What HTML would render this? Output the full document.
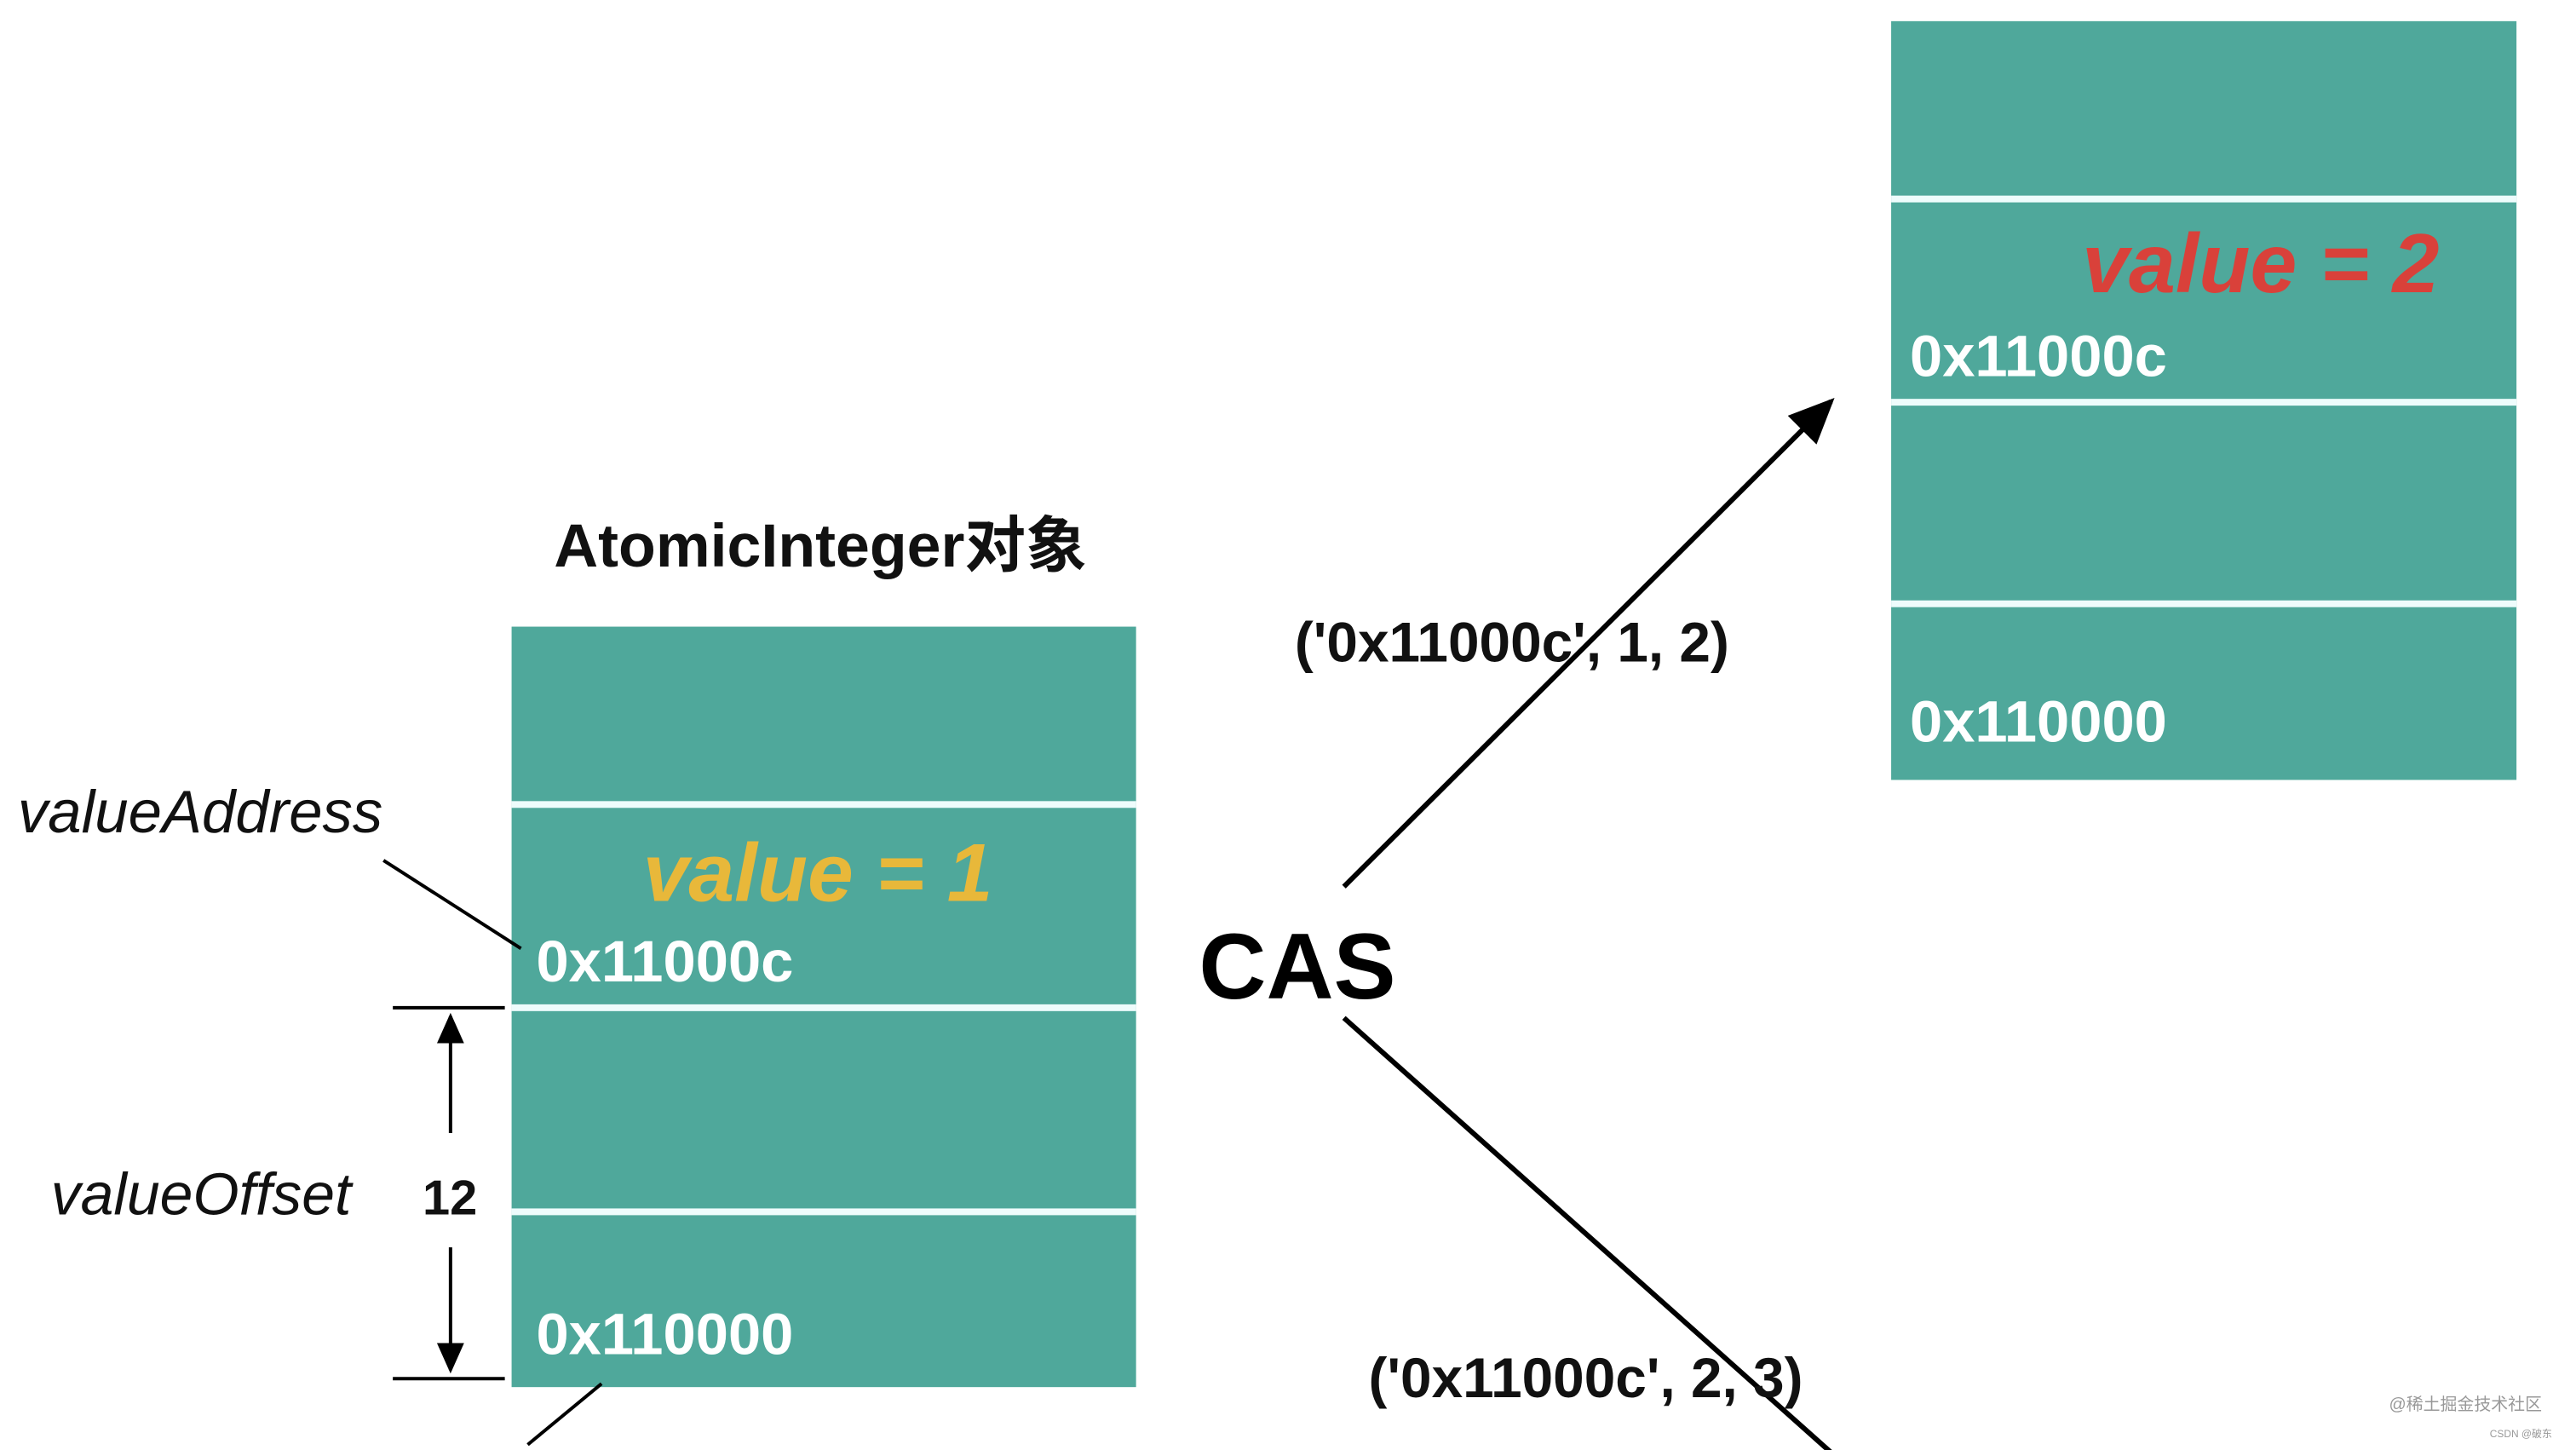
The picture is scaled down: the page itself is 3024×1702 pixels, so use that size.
<!DOCTYPE html>
<html><head><meta charset="utf-8"><style>
html,body{margin:0;padding:0;background:#fff;}
svg{display:block;}
text{font-family:"Liberation Sans","Noto Sans CJK SC",sans-serif;}
</style></head><body>
<svg width="3024" height="1702" viewBox="0 0 3024 1702" xmlns="http://www.w3.org/2000/svg">
<defs>
<marker id="ah" markerWidth="10" markerHeight="10" refX="8" refY="5" orient="auto" markerUnits="strokeWidth">
<path d="M0,1 L9,5 L0,9 z" fill="#000"/>
</marker>
</defs>
<g transform="translate(-2,0) scale(0.996,0.994)">
<!-- left box -->
<rect x="605" y="740" width="736" height="898" fill="#4fa89b"/>
<rect x="605" y="946" width="736" height="8" fill="#eefcfc"/>
<rect x="605" y="1186" width="736" height="8" fill="#eefcfc"/>
<rect x="605" y="1427" width="736" height="8" fill="#eefcfc"/>
<!-- right box -->
<rect x="2231" y="25" width="737" height="896" fill="#4fa89b"/>
<rect x="2231" y="231" width="737" height="8" fill="#eefcfc"/>
<rect x="2231" y="471" width="737" height="8" fill="#eefcfc"/>
<rect x="2231" y="709" width="737" height="8" fill="#eefcfc"/>

<text x="969" y="669" font-size="72" font-weight="bold" text-anchor="middle" fill="#111">AtomicInteger对象</text>
<text x="966" y="1064" font-size="97" font-weight="bold" font-style="italic" text-anchor="middle" fill="#e8b83a">value = 1</text>
<text x="634" y="1159" font-size="69" font-weight="bold" fill="#fff">0x11000c</text>
<text x="634" y="1599" font-size="69" font-weight="bold" fill="#fff">0x110000</text>

<text x="23" y="983" font-size="71" font-style="italic" fill="#111">valueAddress</text>
<line x1="454" y1="1016" x2="616" y2="1120" stroke="#000" stroke-width="4"/>
<text x="62" y="1434" font-size="70" font-style="italic" fill="#111">valueOffset</text>
<text x="500" y="1434" font-size="58" font-weight="bold" fill="#111">12</text>
<line x1="465" y1="1190" x2="597" y2="1190" stroke="#000" stroke-width="4"/>
<line x1="465" y1="1628" x2="597" y2="1628" stroke="#000" stroke-width="4"/>
<line x1="533" y1="1338" x2="533" y2="1200" stroke="#000" stroke-width="4" marker-end="url(#ah)"/>
<line x1="533" y1="1473" x2="533" y2="1618" stroke="#000" stroke-width="4" marker-end="url(#ah)"/>
<line x1="711" y1="1634" x2="624" y2="1706" stroke="#000" stroke-width="4"/>

<text x="1415" y="1179" font-size="110" font-weight="bold" fill="#000">CAS</text>
<line x1="1586" y1="1047" x2="2160" y2="474" stroke="#000" stroke-width="6" marker-end="url(#ah)"/>
<text x="1528" y="781" font-size="66" font-weight="bold" fill="#111">('0x11000c', 1, 2)</text>
<line x1="1586" y1="1202" x2="2161" y2="1716" stroke="#000" stroke-width="6"/>
<text x="1615" y="1650" font-size="66" font-weight="bold" fill="#111">('0x11000c', 2, 3)</text>

<text x="2456" y="345" font-size="99" font-weight="bold" font-style="italic" fill="#d9413a">value = 2</text>
<text x="2253" y="444" font-size="69" font-weight="bold" fill="#fff">0x11000c</text>
<text x="2253" y="876" font-size="69" font-weight="bold" fill="#fff">0x110000</text>

<text x="2998" y="1665" font-size="20" text-anchor="end" fill="#999">@稀土掘金技术社区</text>
<text x="3010" y="1697" font-size="12" text-anchor="end" fill="#999">CSDN @破东</text>
</g>
</svg>
</body></html>
